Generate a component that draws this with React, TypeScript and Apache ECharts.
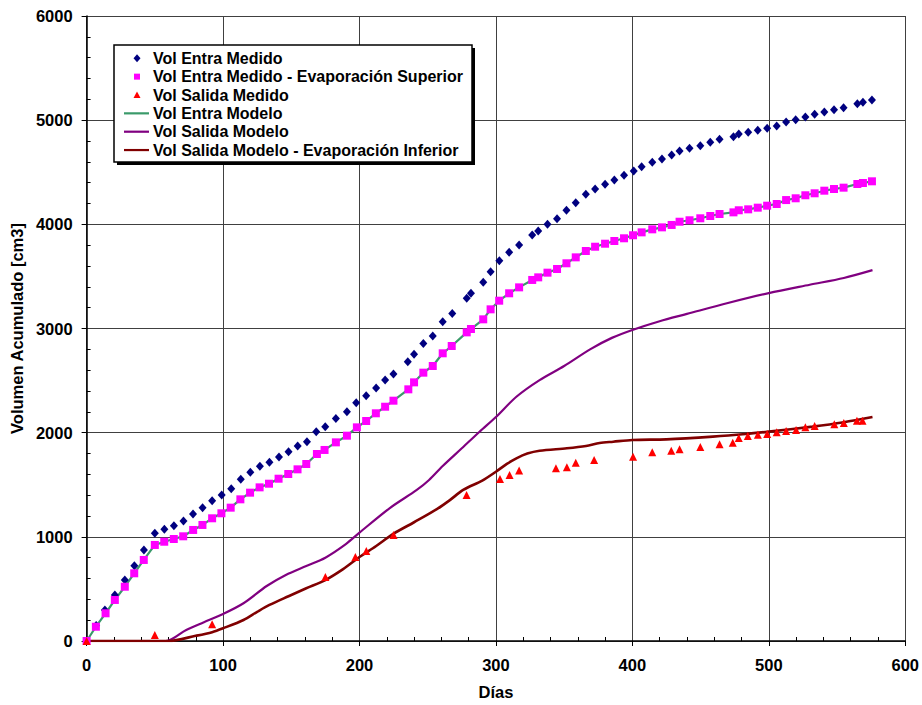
import React, { useEffect, useRef } from "react";
import * as echarts from "echarts";

const X_TICKS = [0, 100, 200, 300, 400, 500, 600];
const Y_TICKS = [0, 1000, 2000, 3000, 4000, 5000, 6000];

const SERIES_NAMES = [
  "Vol Entra Medido",
  "Vol Entra Medido - Evaporación Superior",
  "Vol Salida Medido",
  "Vol Entra Modelo",
  "Vol Salida Modelo",
  "Vol Salida Modelo - Evaporación Inferior",
];

// Vol Entra Medido [day, cm3]
const entraMedidoDays = [0, 7, 13.4, 20.7, 28, 35, 42, 50, 57, 64, 71, 78, 85, 92, 99, 106, 113, 120, 127, 134, 141, 148, 154.7, 161.5, 168.3, 174.9, 182.7, 190.8, 197.6, 204.9, 212.2, 218.8, 224.9, 235.4, 240, 246.8, 253.7, 261, 268, 278.6, 281.7, 290.7, 296.1, 302.5, 309.7, 317, 326.6, 331, 337.8, 344.8, 351.7, 358.5, 365.9, 372.7, 380, 386.8, 393.9, 401, 406.8, 414.6, 421.7, 428.8, 434.6, 441.9, 449.8, 457.1, 463.9, 474.1, 478, 484.9, 491.9, 498.8, 505.8, 512.7, 519.7, 526.8, 533.6, 540.7, 547.8, 554.8, 564.9, 569, 575.6];
const entraMedidoVals = [0, 150, 298, 442, 586, 723, 874, 1034, 1072, 1107, 1152, 1219, 1280, 1347, 1402, 1462, 1552, 1619, 1677, 1715, 1766, 1817, 1872, 1913, 2009, 2057, 2137, 2201, 2287, 2354, 2430, 2506, 2563, 2681, 2752, 2857, 2927, 3064, 3145, 3290, 3338, 3444, 3545, 3650, 3731, 3801, 3898, 3936, 4000, 4054, 4135, 4208, 4288, 4339, 4384, 4425, 4471, 4512, 4553, 4595, 4627, 4666, 4704, 4730, 4755, 4787, 4816, 4841, 4867, 4883, 4903, 4922, 4944, 4982, 5004, 5030, 5056, 5078, 5100, 5120, 5158, 5171, 5193];

// Vol Entra Medido - Evaporación Superior
const entraEvapDays = [0, 6.8, 13.9, 20.7, 28, 34.9, 41.9, 50, 56.9, 63.9, 70.8, 78.1, 84.9, 92, 98.8, 105.6, 112.7, 119.8, 126.8, 133.7, 140.7, 147.8, 154.6, 161, 168.8, 174.4, 182.7, 190.8, 198.1, 204.9, 212, 218.8, 224.9, 235.8, 240, 246.8, 253.7, 261, 267.6, 278.6, 281.7, 290.7, 296.1, 302.4, 309.7, 317, 326.6, 331, 337.8, 344.8, 351.7, 358.5, 365.9, 372.7, 380, 386.8, 393.9, 400.5, 406.8, 414.6, 421.7, 428.8, 434.6, 441.9, 449.8, 457.1, 463.9, 474.1, 478, 484.9, 491.9, 498.8, 505.8, 512.7, 519.7, 526.8, 533.6, 540.7, 547.8, 554.8, 564.9, 569, 575.6];
const entraEvapVals = [0, 137, 266, 394, 521, 650, 778, 922, 953, 979, 1005, 1066, 1114, 1178, 1226, 1280, 1360, 1424, 1475, 1510, 1558, 1603, 1648, 1699, 1795, 1834, 1907, 1971, 2051, 2112, 2186, 2249, 2307, 2416, 2483, 2576, 2640, 2762, 2832, 2963, 2995, 3088, 3184, 3267, 3338, 3395, 3466, 3491, 3536, 3571, 3626, 3683, 3744, 3785, 3814, 3840, 3866, 3895, 3923, 3952, 3971, 3994, 4025, 4039, 4058, 4080, 4099, 4115, 4135, 4144, 4160, 4179, 4195, 4233, 4250, 4279, 4298, 4323, 4339, 4352, 4387, 4397, 4413];

// Vol Salida Medido
const salidaMedidoDays = [0, 50, 92, 175, 197, 205, 225, 278.5, 303, 310, 317, 344, 352, 358.5, 372, 400.5, 414.6, 428.5, 434.6, 449.8, 463.9, 473.6, 478, 484.6, 492, 498.8, 505.8, 512.7, 520, 526.8, 533.6, 548, 555, 564.6, 568.7];
const salidaMedidoVals = [0, 58, 160, 614, 806, 864, 1018, 1402, 1555, 1594, 1638, 1658, 1667, 1712, 1738, 1770, 1811, 1827, 1840, 1862, 1888, 1904, 1949, 1968, 1981, 1987, 2003, 2016, 2026, 2051, 2064, 2080, 2093, 2115, 2115];

// Vol Entra Modelo (line through the evaporation-corrected inflow)
const entraModeloDays = entraEvapDays;
const entraModeloVals = entraEvapVals;

// Vol Salida Modelo
const salidaModeloDays = [0, 58, 73, 86, 100, 115, 132, 146, 161, 175, 190, 200, 222, 242, 251, 261, 275, 288, 300, 315, 332, 350, 369, 385, 400, 420, 440, 470, 500, 530, 555, 576];
const salidaModeloVals = [0, 0, 106, 180, 259, 362, 528, 634, 720, 800, 930, 1040, 1274, 1450, 1546, 1680, 1850, 2009, 2150, 2345, 2505, 2640, 2800, 2910, 2986, 3070, 3140, 3245, 3340, 3420, 3485, 3560];

// Vol Salida Modelo - Evaporación Inferior
const salidaEvapDays = [0, 60, 80, 92, 100, 115, 125, 134, 148, 161, 175, 188, 200, 212, 225, 240, 257, 266, 276, 290, 300, 308, 315, 323, 332, 352, 366, 376, 386, 400, 425, 459, 483, 500, 532, 555, 576];
const salidaEvapVals = [0, 0, 50, 85, 122, 202, 280, 346, 430, 506, 585, 690, 806, 910, 1030, 1140, 1268, 1350, 1450, 1540, 1625, 1700, 1754, 1800, 1827, 1850, 1872, 1900, 1913, 1930, 1936, 1962, 1987, 2010, 2058, 2100, 2150];

const COLORS = ["#000080", "#ff00ff", "#ff0000", "#3a9a6a", "#800080", "#800000"];

const zip = (a: number[], b: number[]) => a.map((d, i) => [d, b[i]]);

const FONT = "Liberation Sans, Arial, sans-serif";

function legendGraphics() {
  const boxX = 114, boxY = 45, boxW = 358, boxH = 117;
  const rowY0 = 58.3, pitch = 18.35, cx = 137, textX = 153;
  const els: any[] = [
    { type: "rect", z: 100, silent: true, shape: { x: boxX + 3, y: boxY + 3, width: boxW, height: boxH }, style: { fill: "#000" } },
    { type: "rect", z: 101, silent: true, shape: { x: boxX, y: boxY, width: boxW, height: boxH }, style: { fill: "#fff", stroke: "#000", lineWidth: 1.5 } },
  ];
  SERIES_NAMES.forEach((name, i) => {
    const y = rowY0 + i * pitch;
    const color = COLORS[i];
    if (i === 0) {
      els.push({ type: "polygon", z: 102, silent: true, shape: { points: [[cx, y - 4], [cx + 3.5, y], [cx, y + 4], [cx - 3.5, y]] }, style: { fill: color } });
    } else if (i === 1) {
      els.push({ type: "rect", z: 102, silent: true, shape: { x: cx - 3, y: y - 3, width: 6, height: 6 }, style: { fill: color } });
    } else if (i === 2) {
      els.push({ type: "polygon", z: 102, silent: true, shape: { points: [[cx, y - 3.5], [cx + 3.5, y + 3], [cx - 3.5, y + 3]] }, style: { fill: color } });
    } else {
      els.push({ type: "line", z: 102, silent: true, shape: { x1: 124, y1: y, x2: 149, y2: y }, style: { stroke: color, lineWidth: 2.2 } });
    }
    els.push({
      type: "text", z: 102, silent: true, x: textX, y,
      style: { text: name, fontFamily: FONT, fontSize: 16, fontWeight: "bold", fill: "#000", verticalAlign: "middle", align: "left" },
    });
  });
  return els;
}

export default function App() {
  const ref = useRef<HTMLDivElement>(null);
  useEffect(() => {
    if (!ref.current) return;
    const chart = echarts.init(ref.current, undefined, { renderer: "svg" });
    const gridColor = "#404040";
    const labelFmt = (v: number) => String(v);
    chart.setOption({
      animation: false,
      backgroundColor: "#ffffff",
      grid: { left: 86, top: 16, right: 16, bottom: 64, containLabel: false },
      xAxis: {
        type: "value",
        min: X_TICKS[0],
        max: X_TICKS[X_TICKS.length - 1],
        interval: 100,
        name: "Días",
        nameLocation: "middle",
        nameGap: 42,
        nameTextStyle: { fontFamily: FONT, fontWeight: "bold", fontSize: 16.5, color: "#000" },
        axisLine: { show: true, onZero: false, lineStyle: { color: "#000", width: 1.5 } },
        axisTick: { show: true, length: 5, lineStyle: { color: "#000", width: 1 } },
        minorTick: { show: true, splitNumber: 5, length: -4, lineStyle: { color: "#000", width: 1 } },
        axisLabel: { margin: 15, formatter: labelFmt, fontFamily: FONT, fontWeight: "bold", fontSize: 16.5, color: "#000" },
        splitLine: { show: true, lineStyle: { color: gridColor, width: 1 } },
      },
      yAxis: {
        type: "value",
        min: Y_TICKS[0],
        max: Y_TICKS[Y_TICKS.length - 1],
        interval: 1000,
        name: "Volumen Acumulado [cm3]",
        nameLocation: "middle",
        nameGap: 61,
        nameTextStyle: { fontFamily: FONT, fontWeight: "bold", fontSize: 16.5, color: "#000" },
        axisLine: { show: true, onZero: false, lineStyle: { color: "#000", width: 1.5 } },
        axisTick: { show: true, length: 5, lineStyle: { color: "#000", width: 1 } },
        minorTick: { show: true, splitNumber: 5, length: -4, lineStyle: { color: "#000", width: 1 } },
        axisLabel: { margin: 14, formatter: labelFmt, fontFamily: FONT, fontWeight: "bold", fontSize: 16.5, color: "#000" },
        splitLine: { show: true, lineStyle: { color: gridColor, width: 1 } },
      },
      graphic: legendGraphics(),
      series: [
        {
          name: SERIES_NAMES[0],
          type: "scatter",
          symbol: "diamond",
          symbolSize: [8, 9],
          z: 5,
          itemStyle: { color: COLORS[0], opacity: 1 },
          data: zip(entraMedidoDays, entraMedidoVals),
        },
        {
          name: SERIES_NAMES[1],
          type: "scatter",
          symbol: "rect",
          symbolSize: 8,
          z: 6,
          itemStyle: { color: COLORS[1], opacity: 1 },
          data: zip(entraEvapDays, entraEvapVals),
        },
        {
          name: SERIES_NAMES[2],
          type: "scatter",
          symbol: "triangle",
          symbolSize: 8,
          z: 6,
          itemStyle: { color: COLORS[2], opacity: 1 },
          data: zip(salidaMedidoDays, salidaMedidoVals),
        },
        {
          name: SERIES_NAMES[3],
          type: "line",
          showSymbol: false,
          symbol: "none",
          z: 3,
          lineStyle: { color: COLORS[3], width: 2.2 },
          data: zip(entraModeloDays, entraModeloVals),
        },
        {
          name: SERIES_NAMES[4],
          type: "line",
          showSymbol: false,
          symbol: "none",
          smooth: 0.3,
          z: 3,
          lineStyle: { color: COLORS[4], width: 2.2 },
          data: zip(salidaModeloDays, salidaModeloVals),
        },
        {
          name: SERIES_NAMES[5],
          type: "line",
          showSymbol: false,
          symbol: "none",
          smooth: 0.3,
          z: 3,
          lineStyle: { color: COLORS[5], width: 2.6 },
          data: zip(salidaEvapDays, salidaEvapVals),
        },
      ],
    });
    return () => chart.dispose();
  }, []);
  return <div ref={ref} style={{ width: 922, height: 705, position: "absolute", left: 0, top: 0 }} />;
}
